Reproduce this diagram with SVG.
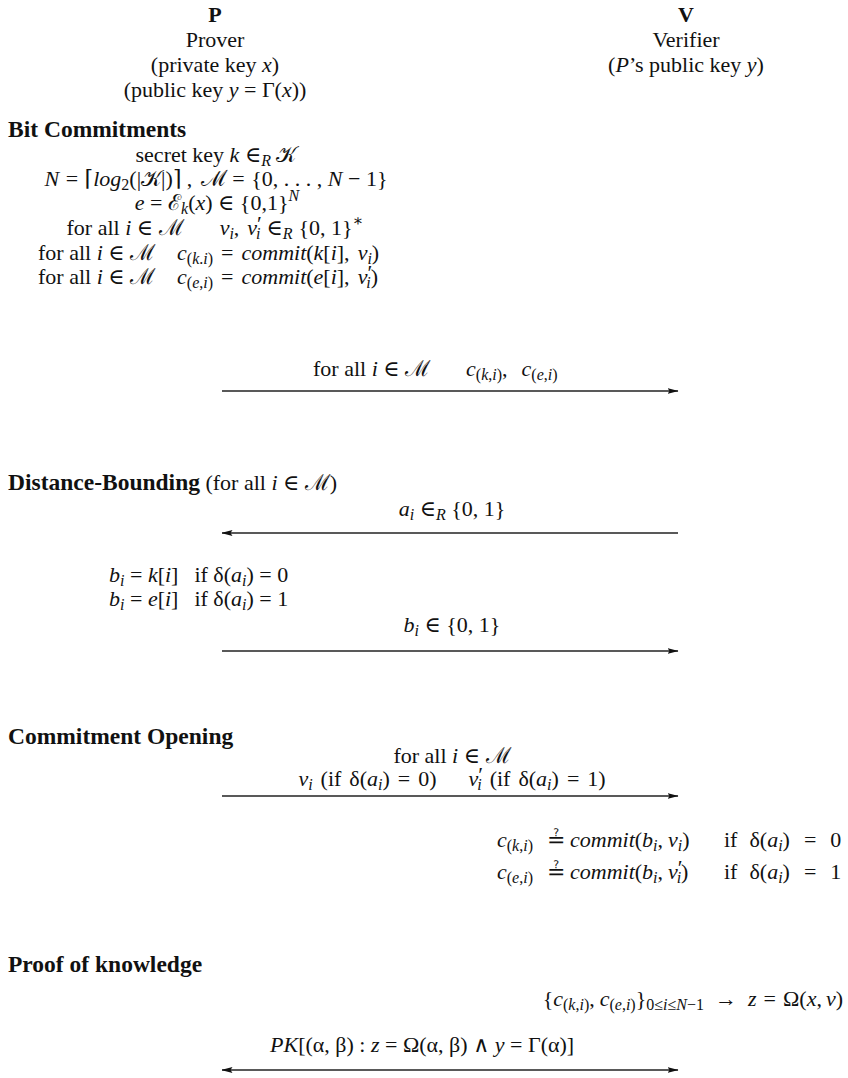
<svg xmlns="http://www.w3.org/2000/svg" width="848" height="1078" viewBox="0 0 848 1078">
<style>
text{font-family:"Liberation Serif","DejaVu Serif",serif;font-size:22px;fill:#111}
.b{font-weight:bold}
.h{font-weight:bold;font-size:23.5px}
.i{font-style:italic}
.s{font-size:16px}
.p{font-size:22px}
.ln{stroke:#222;stroke-width:1.4;fill:none}
</style>
<defs>
<marker id="ah" viewBox="0 0 11 6" refX="10.5" refY="3" markerWidth="11" markerHeight="6" orient="auto-start-reverse" markerUnits="userSpaceOnUse">
<path d="M0,0 L11,3 L0,6 L2,3 z" fill="#111"/>
</marker>
</defs>
<rect width="848" height="1078" fill="#fff"/>

<g id="prover">
<text class="b" x="215" y="22" text-anchor="middle">P</text>
<text x="215" y="47" text-anchor="middle">Prover</text>
<text x="215" y="72" text-anchor="middle">(private key <tspan class="i">x</tspan>)</text>
<text x="215" y="97" text-anchor="middle">(public key <tspan class="i">y</tspan> = Γ(<tspan class="i">x</tspan>))</text>
</g>
<g id="verifier">
<text class="b" x="686" y="22" text-anchor="middle">V</text>
<text x="686" y="47" text-anchor="middle">Verifier</text>
<text x="686" y="72" text-anchor="middle">(<tspan class="i">P</tspan>’s public key <tspan class="i">y</tspan>)</text>
</g>

<g id="bit-commitments">
<text class="h" x="8" y="137">Bit Commitments</text>
<text x="216" y="162" text-anchor="middle">secret key <tspan class="i">k</tspan> ∈<tspan class="i s" dy="4">R</tspan><tspan dy="-4"> 𝒦</tspan></text>
<text x="216" y="186" text-anchor="middle"><tspan class="i">N</tspan> <tspan dx="1">=</tspan> <tspan dx="1">⌈</tspan><tspan class="i">log</tspan><tspan class="s" dy="4">2</tspan><tspan dy="-4">(|𝒦|)⌉ , </tspan><tspan dx="3">ℳ</tspan> <tspan dx="1">=</tspan> <tspan dx="1">{0, . . . , </tspan><tspan class="i">N</tspan> − 1}</text>
<text x="217" y="210" text-anchor="middle"><tspan class="i">e</tspan> = ℰ<tspan class="i s" dy="4">k</tspan><tspan dy="-4">(</tspan><tspan class="i">x</tspan>) ∈ {0,1}<tspan class="i s" dy="-9">N</tspan></text>
<text x="215" y="235" text-anchor="middle">for all <tspan class="i">i</tspan> ∈ ℳ<tspan class="i" dx="36">v</tspan><tspan class="i s" dy="4">i</tspan><tspan dy="-4">,</tspan><tspan class="i" dx="8">v</tspan><tspan class="p" dy="-4">′</tspan><tspan class="i s" dx="-6" dy="8">i</tspan><tspan dx="6" dy="-4">∈</tspan><tspan class="i s" dy="4">R</tspan><tspan dx="6" dy="-4">{0, 1}</tspan><tspan class="s" dy="-9">∗</tspan></text>
<text x="38" y="260">for all <tspan class="i">i</tspan> ∈ ℳ<tspan class="i" dx="22">c</tspan><tspan class="s" dy="4">(<tspan class="i">k</tspan>.<tspan class="i">i</tspan>)</tspan><tspan dx="8" dy="-4">=</tspan><tspan class="i" dx="8">commit</tspan>(<tspan class="i">k</tspan>[<tspan class="i">i</tspan>],<tspan class="i" dx="8">v</tspan><tspan class="i s" dy="4">i</tspan><tspan dy="-4">)</tspan></text>
<text x="38" y="284">for all <tspan class="i">i</tspan> ∈ ℳ<tspan class="i" dx="22">c</tspan><tspan class="s" dy="4">(<tspan class="i">e</tspan>,<tspan class="i">i</tspan>)</tspan><tspan dx="8" dy="-4">=</tspan><tspan class="i" dx="8">commit</tspan>(<tspan class="i">e</tspan>[<tspan class="i">i</tspan>],<tspan class="i" dx="8">v</tspan><tspan class="p" dy="-4">′</tspan><tspan class="i s" dx="-6" dy="8">i</tspan><tspan dy="-4">)</tspan></text>
</g>

<g id="msg-commitments">
<text x="313" y="376">for all <tspan class="i">i</tspan> ∈ ℳ<tspan class="i" dx="36">c</tspan><tspan class="s" dy="4">(<tspan class="i">k</tspan>,<tspan class="i">i</tspan>)</tspan><tspan dy="-4">,</tspan><tspan class="i" dx="14">c</tspan><tspan class="s" dy="4">(<tspan class="i">e</tspan>,<tspan class="i">i</tspan>)</tspan></text>
</g>

<g id="distance-bounding">
<text x="8" y="490"><tspan class="h">Distance-Bounding</tspan> (for all <tspan class="i">i</tspan> ∈ ℳ)</text>
<text x="452" y="516" text-anchor="middle"><tspan class="i">a</tspan><tspan class="i s" dy="4">i</tspan><tspan dy="-4"> ∈</tspan><tspan class="i s" dy="4">R</tspan><tspan dy="-4"> {0, 1}</tspan></text>
<text x="109" y="582"><tspan class="i">b</tspan><tspan class="i s" dy="4">i</tspan><tspan dy="-4"> = </tspan><tspan class="i">k</tspan>[<tspan class="i">i</tspan>]<tspan dx="16">if δ(</tspan><tspan class="i">a</tspan><tspan class="i s" dy="4">i</tspan><tspan dy="-4">) = 0</tspan></text>
<text x="109" y="606"><tspan class="i">b</tspan><tspan class="i s" dy="4">i</tspan><tspan dy="-4"> = </tspan><tspan class="i">e</tspan>[<tspan class="i">i</tspan>]<tspan dx="16">if δ(</tspan><tspan class="i">a</tspan><tspan class="i s" dy="4">i</tspan><tspan dy="-4">) = 1</tspan></text>
<text x="452" y="632" text-anchor="middle"><tspan class="i">b</tspan><tspan class="i s" dy="4">i</tspan><tspan dy="-4"> ∈ {0, 1}</tspan></text>
</g>

<g id="commitment-opening">
<text class="h" x="8" y="744">Commitment Opening</text>
<text x="452" y="763" text-anchor="middle">for all <tspan class="i">i</tspan> ∈ ℳ</text>
<text x="452" y="786" text-anchor="middle"><tspan class="i">v</tspan><tspan class="i s" dy="4">i</tspan><tspan dx="8" dy="-4">(if</tspan><tspan dx="8">δ(</tspan><tspan class="i">a</tspan><tspan class="i s" dy="4">i</tspan><tspan dy="-4">)</tspan><tspan dx="8">=</tspan><tspan dx="8">0)</tspan><tspan class="i" dx="32">v</tspan><tspan class="p" dy="-4">′</tspan><tspan class="i s" dx="-6" dy="8">i</tspan><tspan dx="8" dy="-4">(if</tspan><tspan dx="8">δ(</tspan><tspan class="i">a</tspan><tspan class="i s" dy="4">i</tspan><tspan dy="-4">)</tspan><tspan dx="8">=</tspan><tspan dx="8">1)</tspan></text>
<text x="497" y="847"><tspan class="i">c</tspan><tspan class="s" dy="4">(<tspan class="i">k</tspan>,<tspan class="i">i</tspan>)</tspan></text>
<text x="547" y="847">≟</text>
<text x="570" y="847"><tspan class="i">commit</tspan>(<tspan class="i">b</tspan><tspan class="i s" dy="4">i</tspan><tspan dy="-4">,</tspan><tspan class="i" dx="5">v</tspan><tspan class="i s" dy="4">i</tspan><tspan dy="-4">)</tspan></text>
<text x="724" y="847">if<tspan dx="12">δ(</tspan><tspan class="i">a</tspan><tspan class="i s" dy="4">i</tspan><tspan dy="-4">)</tspan><tspan dx="14">=</tspan><tspan dx="14">0</tspan></text>
<text x="497" y="879"><tspan class="i">c</tspan><tspan class="s" dy="4">(<tspan class="i">e</tspan>,<tspan class="i">i</tspan>)</tspan></text>
<text x="547" y="879">≟</text>
<text x="570" y="879"><tspan class="i">commit</tspan>(<tspan class="i">b</tspan><tspan class="i s" dy="4">i</tspan><tspan dy="-4">,</tspan><tspan class="i" dx="5">v</tspan><tspan class="p" dy="-4">′</tspan><tspan class="i s" dx="-6" dy="8">i</tspan><tspan dy="-4">)</tspan></text>
<text x="724" y="879">if<tspan dx="12">δ(</tspan><tspan class="i">a</tspan><tspan class="i s" dy="4">i</tspan><tspan dy="-4">)</tspan><tspan dx="14">=</tspan><tspan dx="14">1</tspan></text>
</g>

<g id="proof-of-knowledge">
<text class="h" x="8" y="972">Proof of knowledge</text>
<text x="843" y="1006" text-anchor="end">{<tspan class="i">c</tspan><tspan class="s" dy="4">(<tspan class="i">k</tspan>,<tspan class="i">i</tspan>)</tspan><tspan dy="-4">,</tspan><tspan class="i" dx="5">c</tspan><tspan class="s" dy="4">(<tspan class="i">e</tspan>,<tspan class="i">i</tspan>)</tspan><tspan dy="-4">}</tspan><tspan class="s" dy="4">0≤<tspan class="i">i</tspan>≤<tspan class="i">N</tspan>−1</tspan><tspan dx="11" dy="-4">→</tspan><tspan class="i" dx="11">z</tspan><tspan dx="7">=</tspan><tspan dx="7">Ω(</tspan><tspan class="i">x</tspan>,<tspan class="i" dx="4">v</tspan>)</text>
<text x="270" y="1052"><tspan class="i">PK</tspan>[(α, β) : <tspan class="i">z</tspan> = Ω(α, β) ∧ <tspan class="i">y</tspan> = Γ(α)]</text>
</g>

<g id="connectors">
<line class="ln" x1="222" y1="391" x2="678" y2="391" marker-end="url(#ah)"/>
<line class="ln" x1="678" y1="533" x2="222" y2="533" marker-end="url(#ah)"/>
<line class="ln" x1="222" y1="651" x2="678" y2="651" marker-end="url(#ah)"/>
<line class="ln" x1="222" y1="796" x2="678" y2="796" marker-end="url(#ah)"/>
<line class="ln" x1="222" y1="1070" x2="678" y2="1070" marker-start="url(#ah)" marker-end="url(#ah)"/>
</g>
</svg>
